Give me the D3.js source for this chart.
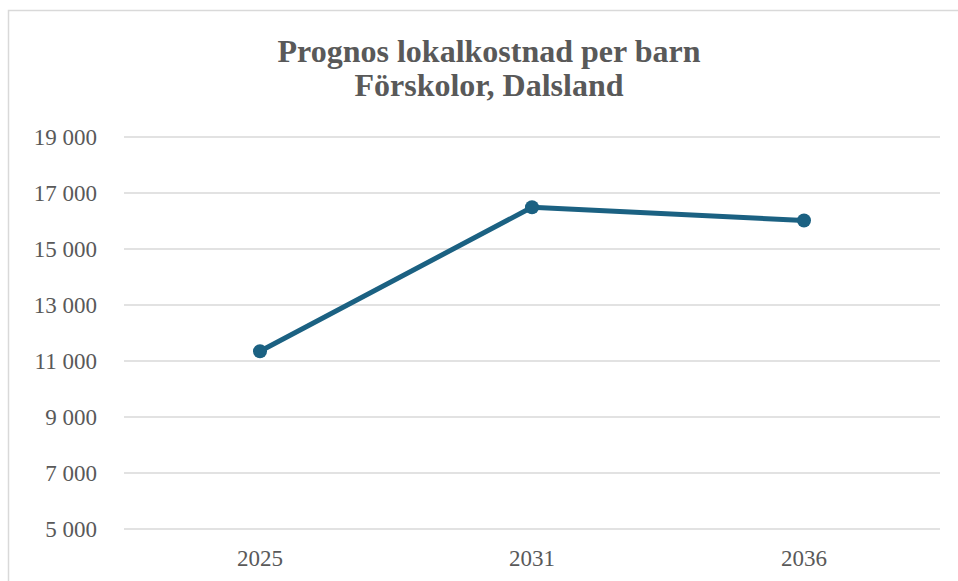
<!DOCTYPE html>
<html>
<head>
<meta charset="utf-8">
<script src="https://cdn.jsdelivr.net/npm/d3@7"></script>
<style>
    body { margin: 0; background: #fff; }
    text { font-family: "Liberation Serif", "Times New Roman", serif; fill: #595959; }
</style>
</head>
<body>
<script>
    var years = ["2025", "2031", "2036"];
    var costs = [11350, 16490, 16020];
    var yTicks = [5000, 7000, 9000, 11000, 13000, 15000, 17000, 19000];
    var titleLines = ["Prognos lokalkostnad per barn", "Förskolor, Dalsland"];

    var w = 958, h = 581;
    var svg = d3.select("body").append("svg")
        .attr("width", w)
        .attr("height", h);

    // chart frame (right and bottom edges fall outside the picture)
    svg.append("rect")
        .attr("x", 8.5).attr("y", 10.5)
        .attr("width", 1000).attr("height", 1000)
        .attr("fill", "none")
        .attr("stroke", "#d9d9d9")
        .attr("stroke-width", 1.5);

    var plotLeft = 124, plotRight = 940, plotTop = 137, plotBottom = 529;

    var x = d3.scaleBand().domain(years).range([plotLeft, plotRight]);
    var y = d3.scaleLinear().domain([5000, 19000]).range([plotBottom, plotTop]);

    svg.selectAll("line.grid")
        .data(yTicks)
        .enter()
        .append("line")
        .attr("class", "grid")
        .attr("x1", plotLeft).attr("x2", plotRight)
        .attr("y1", function(d) { return y(d); })
        .attr("y2", function(d) { return y(d); })
        .attr("stroke", "#d9d9d9")
        .attr("stroke-width", 1.5);

    var fmt = function(d) { return d3.format(",")(d).replace(",", " "); };

    svg.selectAll("text.ylab")
        .data(yTicks)
        .enter()
        .append("text")
        .attr("class", "ylab")
        .attr("x", 97)
        .attr("y", function(d) { return y(d); })
        .attr("dy", "0.35em")
        .attr("text-anchor", "end")
        .attr("font-size", "23px")
        .text(fmt);

    svg.selectAll("text.xlab")
        .data(years)
        .enter()
        .append("text")
        .attr("class", "xlab")
        .attr("x", function(d) { return x(d) + x.bandwidth() / 2; })
        .attr("y", 566)
        .attr("text-anchor", "middle")
        .attr("font-size", "23px")
        .text(function(d) { return d; });

    var line = d3.line()
        .x(function(d, i) { return x(years[i]) + x.bandwidth() / 2; })
        .y(function(d) { return y(d); });

    svg.append("path")
        .datum(costs)
        .attr("d", line)
        .attr("fill", "none")
        .attr("stroke", "#1b6182")
        .attr("stroke-width", 5)
        .attr("stroke-linejoin", "round");

    svg.selectAll("circle")
        .data(costs)
        .enter()
        .append("circle")
        .attr("cx", function(d, i) { return x(years[i]) + x.bandwidth() / 2; })
        .attr("cy", function(d) { return y(d); })
        .attr("r", 7)
        .attr("fill", "#1b6182");

    svg.selectAll("text.title")
        .data(titleLines)
        .enter()
        .append("text")
        .attr("class", "title")
        .attr("x", 489)
        .attr("y", function(d, i) { return 62 + i * 34; })
        .attr("text-anchor", "middle")
        .attr("font-size", "32px")
        .attr("font-weight", "bold")
        .text(function(d) { return d; });
</script>
</body>
</html>
